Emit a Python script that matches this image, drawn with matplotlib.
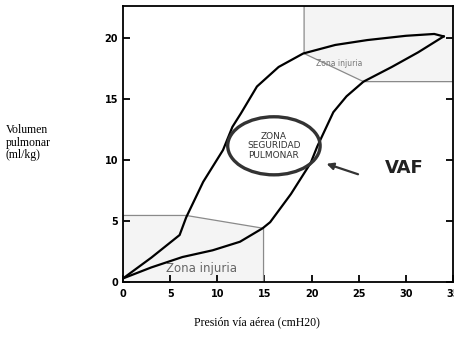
import matplotlib
matplotlib.use("Agg")
import matplotlib.pyplot as plt
from matplotlib.patches import Polygon, Ellipse

# ── curva presión-volumen ─────────────────────────────
insp_x = [0, 3.0, 6.0, 6.7, 8.5, 10.6, 11.6, 12.5, 14.2, 16.5, 19.1, 22.5, 25.9, 30.0, 33.0, 34.0]
insp_y = [0.3, 2.0, 3.85, 5.3, 8.2, 10.8, 12.7, 13.8, 16.0, 17.6, 18.7, 19.4, 19.8, 20.15, 20.3, 20.1]

esp_x = [34.0, 31.3, 28.5, 25.5, 23.7, 22.3, 20.6, 19.9, 17.8, 15.6, 14.8, 12.4, 9.5, 6.3, 3.0, 0.0]
esp_y = [20.1, 18.8, 17.6, 16.4, 15.2, 13.9, 11.1, 9.75, 7.2, 4.9, 4.4, 3.3, 2.6, 2.05, 1.2, 0.3]

# ── zonas de injuria ─────────────────────────────────
zona_sup_x = [19.2, 35.0, 35.0, 25.5, 19.2]
zona_sup_y = [22.6, 22.6, 16.4, 16.4, 18.7]
zona_inf_x = [0.0, 6.7, 14.9, 14.9, 0.0]
zona_inf_y = [5.45, 5.45, 4.4, 0.0, 0.0]

xticks = [0, 5, 10, 15, 20, 25, 30, 35]
yticks = [0, 5, 10, 15, 20]

# punteado tenue dentro de las zonas
plt.rcParams["hatch.color"] = "#bdbdbd"
plt.rcParams["hatch.linewidth"] = 0.5

fig = plt.figure(figsize=(4.54, 3.44), dpi=100)
ax = fig.add_axes([0.271, 0.180, 0.727, 0.803])

for zx, zy in [(zona_sup_x, zona_sup_y), (zona_inf_x, zona_inf_y)]:
    ax.add_patch(Polygon(list(zip(zx, zy)), closed=True, facecolor="#f4f4f4",
                         edgecolor="none", hatch="....", zorder=1))
    ax.add_patch(Polygon(list(zip(zx, zy)), closed=True, fill=False,
                         edgecolor="#8a8a8a", linewidth=0.9, zorder=2))

ax.plot(insp_x, insp_y, color="black", lw=1.6, zorder=3)
ax.plot(esp_x, esp_y, color="black", lw=1.6, zorder=3)

ax.add_patch(Ellipse((16.0, 11.15), 9.8, 4.75, fill=False, edgecolor="#333333",
                     lw=2.4, zorder=4))
ax.text(16.0, 11.15, "ZONA\nSEGURIDAD\nPULMONAR", ha="center", va="center",
        fontsize=6.5, color="#333333", linespacing=1.05, zorder=5)

ax.annotate("", xy=(21.3, 9.75), xytext=(25.2, 8.75),
            arrowprops=dict(arrowstyle="-|>", color="#333333", lw=1.6,
                            mutation_scale=10))
ax.text(27.8, 9.3, "VAF", fontsize=13, fontweight="bold", color="#222222",
        va="center", ha="left")

ax.text(20.5, 17.85, "Zona injuria", fontsize=5.5, color="#777777", ha="left", va="center")
ax.text(8.3, 1.15, "Zona injuria", fontsize=8.5, color="#666666", ha="center", va="center")

ax.set_xlim(0, 35)
ax.set_ylim(0, 22.6)
ax.set_xticks(xticks)
ax.set_yticks(yticks)
ax.tick_params(direction="in", length=5, width=1.3, labelsize=7, right=True)
ax.tick_params(axis="x", pad=5)
for lab in ax.get_xticklabels() + ax.get_yticklabels():
    lab.set_fontweight("bold")
for s in ax.spines.values():
    s.set_linewidth(1.3)

fig.text(0.012, 0.585, "Volumen\npulmonar\n(ml/kg)", fontsize=8.5,
         family="Liberation Serif", ha="left", va="center", linespacing=1.05)
fig.text(0.565, 0.062, "Presión vía aérea (cmH20)", fontsize=8.5,
         family="Liberation Serif", ha="center", va="center")

fig.savefig("out.png", dpi=100)
